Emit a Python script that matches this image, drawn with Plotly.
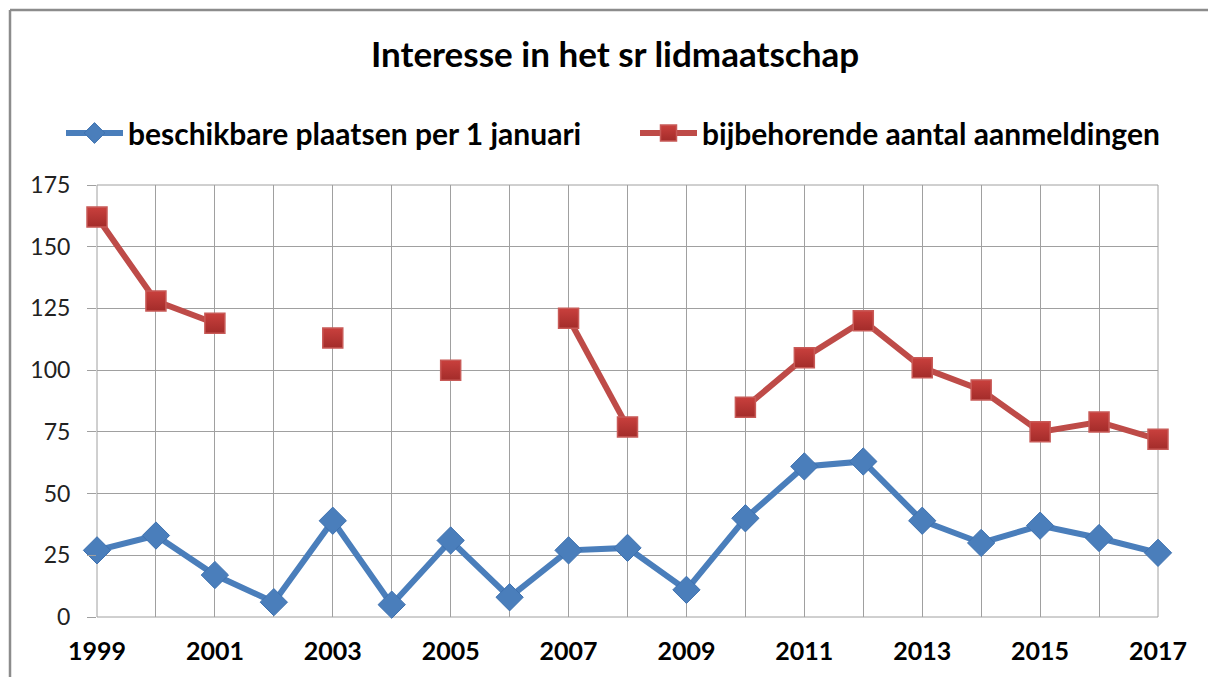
import plotly.graph_objects as go

years = list(range(1999, 2018))
plaatsen = [27, 33, 17, 6, 39, 5, 31, 8, 27, 28, 11, 40, 61, 63, 39, 30, 37, 32, 26]
aanmeldingen = [162, 128, 119, None, 113, None, 100, None, 121, 77, None, 85, 105, 120, 101, 92, 75, 79, 72]
tick_text = [f"<b>{y}</b>" if y % 2 == 1 else "" for y in years]
y_ticks = [0, 25, 50, 75, 100, 125, 150, 175]

BLUE = "#4a7ebb"
RED = "#be4b48"
FONT = "Lato"

# page body has an 8px margin; work in figure pixels
W, H = 1208, 669
L, R, T, B = 89, 58, 177, 60
PW, PH = W - L - R, H - T - B


def px(xr):  # real screen x -> paper
    return (xr - 8 - L) / PW


def py(yr):  # real screen y -> paper
    return (H - B - (yr - 8)) / PH


fig = go.Figure()
fig.add_trace(go.Scatter(
    x=years, y=plaatsen, mode="lines+markers",
    name="beschikbare plaatsen per 1 januari", legend="legend",
    cliponaxis=False,
    line=dict(color=BLUE, width=6),
    marker=dict(symbol="diamond", size=21, color=BLUE,
                line=dict(color="#3f72b0", width=1)),
))
fig.add_trace(go.Scatter(
    x=years, y=aanmeldingen, mode="lines+markers",
    name="bijbehorende aantal aanmeldingen", legend="legend2",
    connectgaps=False, cliponaxis=False,
    line=dict(color=RED, width=6),
    marker=dict(symbol="square", size=20, color="#c9403d",
                gradient=dict(type="vertical", color="#a32c2a"),
                line=dict(color="#c85a57", width=1.5)),
))

grid = "#a0a0a0"
legfont = dict(family=FONT, size=30, color="#000000", weight="bold")
fig.update_layout(
    width=W, height=H,
    margin=dict(l=L, r=R, t=T, b=B),
    paper_bgcolor="white", plot_bgcolor="white",
    font=dict(family=FONT, color="#1a1a1a"),
    title=dict(text="<b>Interesse in het sr lidmaatschap</b>",
               x=(615 - 8) / W, xref="container", xanchor="center",
               y=1 - (55 - 8) / H, yref="container", yanchor="middle",
               font=dict(family=FONT, size=35, color="#000000")),
    showlegend=True,
    legend=dict(x=px(61), xanchor="left", y=py(133), yanchor="middle",
                font=legfont, itemwidth=57, bgcolor="rgba(0,0,0,0)"),
    legend2=dict(x=px(635), xanchor="left", y=py(133), yanchor="middle",
                 font=legfont, itemwidth=57, bgcolor="rgba(0,0,0,0)"),
    xaxis=dict(range=[1999, 2017], tickvals=years, ticktext=tick_text,
               showgrid=True, gridcolor=grid, gridwidth=1,
               showline=False, zeroline=False, ticks="",
               tickfont=dict(family=FONT, size=25, color="#000000"),
               ticklabelstandoff=17),
    yaxis=dict(range=[0, 175], tickvals=y_ticks,
               showgrid=True, gridcolor=grid, gridwidth=1,
               showline=False, zeroline=False,
               ticks="outside", ticklen=9, tickcolor=grid, tickwidth=1,
               tickfont=dict(family=FONT, size=23, color="#222222"),
               ticklabelstandoff=12),
)

# plot border
fig.add_shape(type="rect", xref="paper", yref="paper", x0=0, x1=1, y0=0, y1=1,
              line=dict(color=grid, width=1), layer="below")
# chart frame (top and left edges visible)
fig.add_shape(type="line", xref="paper", yref="paper",
              x0=px(10), x1=px(1240), y0=py(10), y1=py(10),
              line=dict(color="#8c8c8c", width=2.5))
fig.add_shape(type="line", xref="paper", yref="paper",
              x0=px(10), x1=px(10), y0=py(10), y1=py(720),
              line=dict(color="#8c8c8c", width=2.5))

fig.write_html("out.html")
